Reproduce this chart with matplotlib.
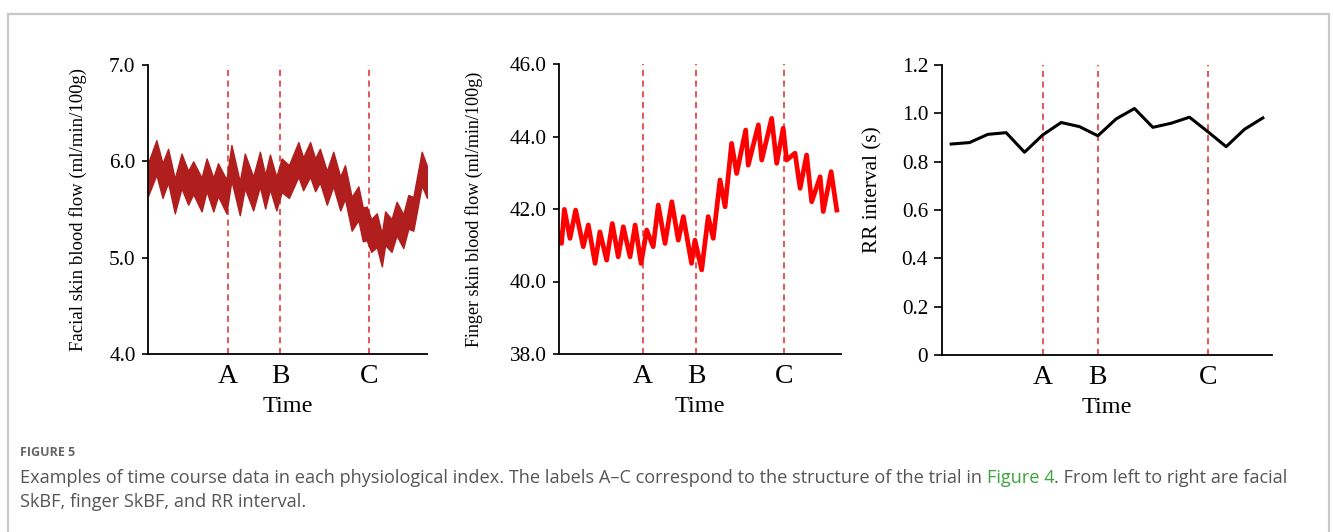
import matplotlib.pyplot as plt
from matplotlib.patches import Rectangle

# ---- data ----
# facial SkBF: band drawn between upper/lower envelopes (peaks and troughs of each breath)
face_t = [0.0, 3.0, 5.2, 7.2, 9.6, 12.0, 14.4, 16.2, 19.2, 21.0, 23.4, 25.1, 28.1, 29.9,
          32.9, 34.7, 37.7, 40.1, 42.0, 43.7, 46.0, 47.9, 50.5, 53.9, 55.6, 58.1, 59.9,
          61.6, 64.1, 66.4, 68.9, 70.6, 73.0, 75.4, 77.0, 78.4, 80.0, 82.0, 83.8, 85.0,
          87.3, 89.1, 91.5, 93.3, 95.1, 98.1, 100.0]
face_hi = [5.98, 6.22, 5.98, 6.13, 5.82, 6.08, 5.90, 6.00, 5.83, 6.03, 5.83, 5.98, 5.81, 6.17,
           5.79, 6.08, 5.84, 6.10, 5.86, 6.07, 5.84, 6.03, 5.96, 6.20, 6.04, 6.20, 6.03,
           6.13, 5.90, 6.10, 5.84, 5.96, 5.63, 5.74, 5.52, 5.53, 5.40, 5.46, 5.25, 5.48,
           5.40, 5.58, 5.45, 5.65, 5.63, 6.10, 5.95]
face_lo = [5.64, 5.86, 5.62, 5.78, 5.46, 5.72, 5.55, 5.66, 5.48, 5.69, 5.48, 5.64, 5.46, 5.80,
           5.44, 5.72, 5.49, 5.74, 5.51, 5.71, 5.49, 5.68, 5.62, 5.84, 5.70, 5.84, 5.69,
           5.78, 5.55, 5.74, 5.49, 5.61, 5.28, 5.39, 5.17, 5.18, 5.06, 5.11, 4.91, 5.13,
           5.06, 5.23, 5.10, 5.30, 5.28, 5.75, 5.62]
face_events = [28.7, 47.3, 79.2]

# finger SkBF: peak/trough sequence
finger_t = [0.0, 0.9, 1.9, 3.9, 5.9, 8.6, 10.4, 12.8, 14.5, 16.9, 18.9, 21.0, 22.8, 25.2,
            27.0, 29.1, 31.1, 33.4, 35.2, 37.6, 40.0, 42.3, 44.1, 47.0, 48.2, 50.6, 52.9,
            54.7, 57.1, 58.9, 61.2, 63.0, 66.2, 67.1, 70.7, 71.9, 75.4, 77.2, 79.5, 80.7,
            83.7, 85.5, 87.8, 89.6, 92.6, 93.7, 96.5, 98.5]
finger_v = [41.30, 41.05, 41.99, 41.19, 41.97, 40.96, 41.56, 40.50, 41.37, 40.59, 41.60,
            40.68, 41.51, 40.68, 41.56, 40.50, 41.42, 40.96, 42.11, 41.05, 42.20, 41.14,
            41.79, 40.50, 41.14, 40.32, 41.79, 41.19, 42.80, 42.06, 43.81, 42.98, 44.18,
            43.21, 44.32, 43.35, 44.50, 43.26, 44.23, 43.35, 43.54, 42.57, 43.49, 42.20,
            42.89, 41.93, 43.03, 41.97]
finger_events = [29.8, 48.6, 79.8]

# RR interval (s), one value per beat window
rr_values = [0.873, 0.879, 0.913, 0.920, 0.839, 0.911, 0.962, 0.945, 0.907, 0.977,
             1.020, 0.942, 0.959, 0.984, 0.924, 0.862, 0.934, 0.981]
rr_events = [5, 8, 14]
event_labels = ["A", "B", "C"]

W, H = 1333, 532
fig = plt.figure(figsize=(W / 100, H / 100), dpi=100)
serif = "Liberation Serif"

# light frame around the figure
fig.patches.append(Rectangle((8 / W, -0.05), 1321 / W, (H - 14) / H + 0.05,
                             transform=fig.transFigure, fill=False,
                             ec="#c8c8c8", lw=1.6))


def style_axes(ax, events, ylabel, ylabel_size, label_x, label_y):
    for s in ["top", "right"]:
        ax.spines[s].set_visible(False)
    for s in ["left", "bottom"]:
        ax.spines[s].set_linewidth(1.3)
    for xe in events:
        ax.axvline(xe, color="#dd2a2a", lw=1.1, ls=(0, (4, 3)), zorder=1)
    ax.set_xticks(events)
    ax.set_xticklabels(event_labels, fontsize=20, family=serif)
    ax.tick_params(axis="x", length=0, pad=7)
    ax.tick_params(axis="y", length=4, width=1.2, direction="out", pad=5)
    for lab in ax.get_yticklabels():
        lab.set_family(serif)
        lab.set_fontsize(15.3)
    ax.set_xlabel("Time", fontsize=17.5, family=serif, labelpad=5)
    ax.set_ylabel(ylabel, fontsize=ylabel_size, family=serif, va="center")
    ax.yaxis.set_label_coords(label_x, label_y)


# panel 1: facial skin blood flow
ax1 = fig.add_axes([148 / W, 1 - 354 / H, 279 / W, 289 / H])
ax1.fill_between(face_t, face_lo, face_hi, color="#b01e1e", lw=1.0, zorder=2)
ax1.set_xlim(0, 100)
ax1.set_ylim(4.0, 7.0)
ax1.set_yticks([4.0, 5.0, 6.0, 7.0])
ax1.set_yticklabels(["4.0", "5.0", "6.0", "7.0"])
style_axes(ax1, face_events, "Facial skin blood flow (ml/min/100g)", 13.5, -0.25, 0.5)

# panel 2: finger skin blood flow
ax2 = fig.add_axes([559 / W, 1 - 354 / H, 282 / W, 290 / H])
ax2.plot(finger_t, finger_v, color="#ff0000", lw=3.4, zorder=2)
ax2.set_xlim(0, 100)
ax2.set_ylim(38.0, 46.0)
ax2.set_yticks([38, 40, 42, 44, 46])
ax2.set_yticklabels(["38.0", "40.0", "42.0", "44.0", "46.0"])
style_axes(ax2, finger_events, "Finger skin blood flow (ml/min/100g)", 13.1, -0.30, 0.5)

# panel 3: RR interval
ax3 = fig.add_axes([942 / W, 1 - 355 / H, 330 / W, 290 / H])
ax3.plot(range(len(rr_values)), rr_values, color="black", lw=2.2, zorder=2)
ax3.set_xlim(-0.5, 17.5)
ax3.set_ylim(0, 1.2)
ax3.set_yticks([0, 0.2, 0.4, 0.6, 0.8, 1.0, 1.2])
ax3.set_yticklabels(["0", "0.2", "0.4", "0.6", "0.8", "1.0", "1.2"])
style_axes(ax3, rr_events, "RR interval (s)", 15.3, -0.21, 0.57)
ax3.tick_params(axis="y", length=6, pad=4)

# caption
cap = dict(family="Open Sans", fontsize=13.1, color="#555555", va="center")
fig.text(20 / W, 1 - 453 / H, "FIGURE 5", family="Open Sans", fontsize=9,
         weight="bold", color="#666666", va="center")
fig.canvas.draw()
r = fig.canvas.get_renderer()
y1 = 1 - 478 / H
t1 = fig.text(20 / W, y1, "Examples of time course data in each physiological index. "
              "The labels A\u2013C correspond to the structure of the trial in ", **cap)
x = t1.get_window_extent(r).x1
t2 = fig.text(x / W, y1, "Figure 4", **{**cap, "color": "#3aa63a"})
x = t2.get_window_extent(r).x1
fig.text(x / W, y1, ". From left to right are facial", **cap)
fig.text(20 / W, 1 - 502 / H, "SkBF, finger SkBF, and RR interval.", **cap)

plt.savefig("out.png", dpi=100)
